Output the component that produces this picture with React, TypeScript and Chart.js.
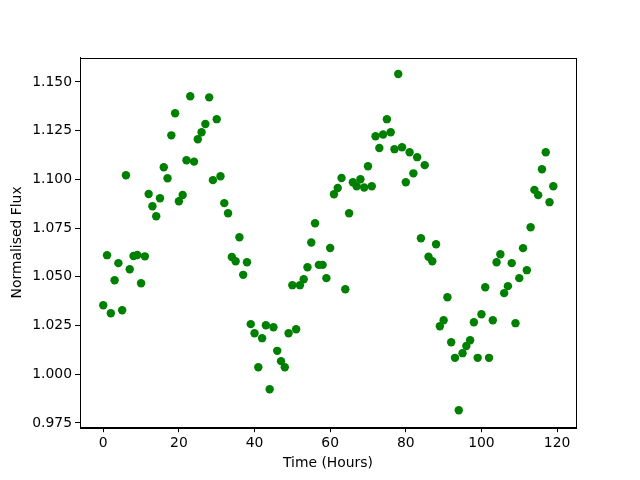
import React, { useEffect, useRef } from "react";
import { Chart, registerables } from "chart.js";

Chart.register(...registerables);

const hours: number[] = Array.from({ length: 120 }, (_, i) => i);

const flux: number[] = [
  1.0354, 1.0611, 1.0313, 1.0482, 1.057, 1.0328, 1.1021, 1.0539, 1.0607, 1.0612,
  1.0467, 1.0605, 1.0925, 1.0862, 1.0811, 1.0903, 1.1062, 1.1006, 1.1226, 1.1339,
  1.0888, 1.092, 1.1098, 1.1427, 1.1091, 1.1206, 1.1242, 1.1284, 1.1421, 1.0996,
  1.1309, 1.1016, 1.0878, 1.0826, 1.0602, 1.058, 1.0703, 1.051, 1.0575, 1.0257,
  1.021, 1.0036, 1.0185, 1.0251, 0.9923, 1.0241, 1.012, 1.0067, 1.0036, 1.021,
  1.0457, 1.0231, 1.0457, 1.0487, 1.0549, 1.0676, 1.0775, 1.0561, 1.0561, 1.0493,
  1.0648, 1.0924, 1.0956, 1.1007, 1.0436, 1.0826, 1.0985, 1.0965, 1.1001, 1.0958,
  1.1067, 1.0965, 1.1221, 1.1161, 1.123, 1.1309, 1.1242, 1.1155, 1.1541, 1.1165,
  1.0985, 1.1139, 1.1031, 1.1114, 1.0698, 1.1073, 1.0603, 1.058, 1.0667, 1.0246,
  1.0277, 1.0395, 1.0164, 1.0084, 0.9815, 1.0108, 1.0145, 1.0174, 1.0267, 1.0084,
  1.0308, 1.0446, 1.0084, 1.0277, 1.0575, 1.0616, 1.0416, 1.0452, 1.057, 1.0262,
  1.0493, 1.0647, 1.0534, 1.0754, 1.0946, 1.0919, 1.1052, 1.1139, 1.0883, 1.0965,
];

const xTicks: number[] = [0, 20, 40, 60, 80, 100, 120];
const yTicks: number[] = [0.975, 1.0, 1.025, 1.05, 1.075, 1.1, 1.125, 1.15];

const FONT = "'DejaVu Sans', sans-serif";

export default function App() {
  const ref = useRef<HTMLCanvasElement | null>(null);

  useEffect(() => {
    if (!ref.current) return;
    const frame = {
      id: "frame",
      afterDraw(chart: any) {
        const { ctx, chartArea } = chart;
        ctx.save();
        ctx.strokeStyle = "#000";
        ctx.lineWidth = 1;
        ctx.strokeRect(
          Math.round(chartArea.left) + 0.5,
          Math.round(chartArea.top) + 0.5,
          Math.round(chartArea.right - chartArea.left),
          Math.round(chartArea.bottom - chartArea.top)
        );
        ctx.restore();
      },
    };
    const chart = new Chart(ref.current, {
      type: "scatter",
      data: {
        datasets: [
          {
            data: hours.map((h, i) => ({ x: h, y: flux[i] })),
            backgroundColor: "#008000",
            borderColor: "#008000",
            borderWidth: 0,
            pointRadius: 4.2,
            pointHoverRadius: 4.2,
          },
        ],
      },
      options: {
        responsive: false,
        animation: false,
        events: [],
        layout: { padding: { top: 57.6, right: 64, left: 0, bottom: 0 } },
        plugins: { legend: { display: false }, tooltip: { enabled: false } },
        scales: {
          x: {
            type: "linear",
            min: -6.15,
            max: 125.0,
            afterBuildTicks: (s: any) => {
              s.ticks = xTicks.map((v) => ({ value: v }));
            },
            afterFit: (s: any) => {
              s.height = 52.8;
            },
            grid: {
              display: true,
              drawOnChartArea: false,
              drawTicks: true,
              tickLength: 5,
              color: "#000",
            },
            border: { display: true, color: "#000" },
            ticks: {
              color: "#000",
              padding: 3,
              maxRotation: 0,
              font: { family: FONT, size: 13.9 },
              callback: (v: any) => String(v),
            },
            title: {
              display: true,
              text: "Time (Hours)",
              color: "#000",
              padding: { top: 0, bottom: 8 },
              font: { family: FONT, size: 13.9 },
            },
          },
          y: {
            type: "linear",
            min: 0.9728,
            max: 1.1625,
            afterBuildTicks: (s: any) => {
              s.ticks = yTicks.map((v) => ({ value: v }));
            },
            afterFit: (s: any) => {
              s.width = 80;
            },
            grid: {
              display: true,
              drawOnChartArea: false,
              drawTicks: true,
              tickLength: 5,
              color: "#000",
            },
            border: { display: true, color: "#000" },
            ticks: {
              color: "#000",
              padding: 3,
              font: { family: FONT, size: 13.9 },
              callback: (v: any) => Number(v).toFixed(3),
            },
            title: {
              display: true,
              text: "Normalised Flux",
              color: "#000",
              padding: { top: 9, bottom: 0 },
              font: { family: FONT, size: 13.9 },
            },
          },
        },
      },
      plugins: [frame],
    } as any);
    return () => chart.destroy();
  }, []);

  return (
    <div style={{ position: "fixed", left: 0, top: 0, width: 640, height: 480, background: "#fff" }}>
      <canvas ref={ref} width={640} height={480} style={{ width: 640, height: 480 }} />
    </div>
  );
}
